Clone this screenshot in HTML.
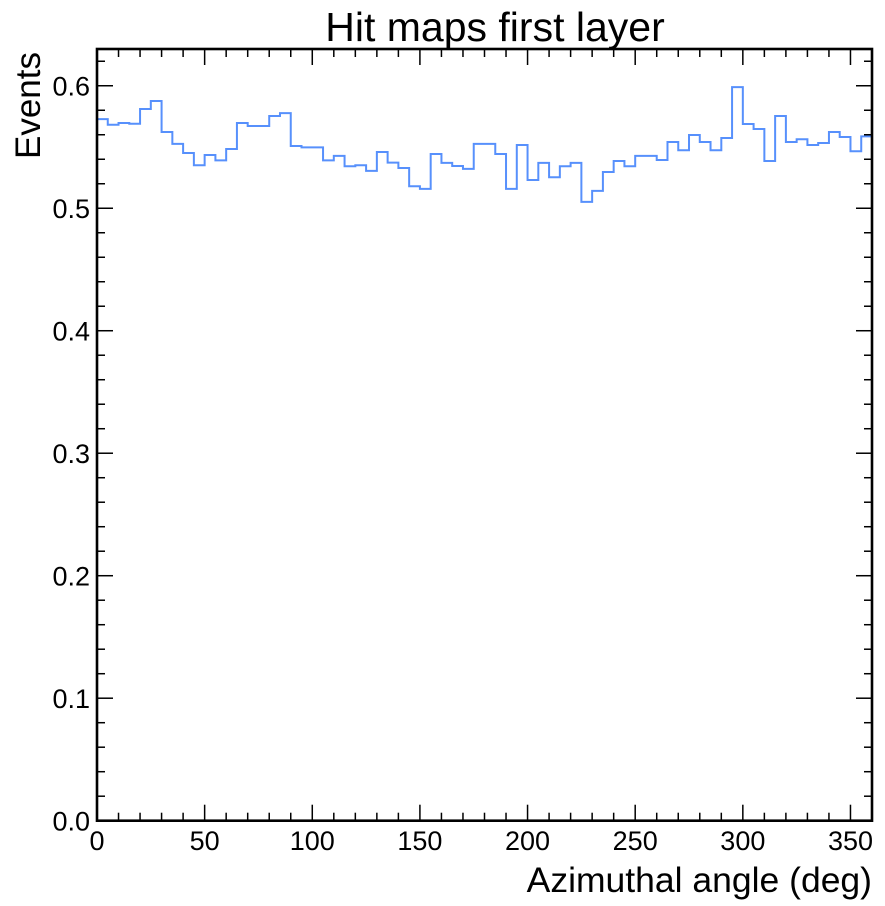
<!DOCTYPE html>
<html><head><meta charset="utf-8"><style>
html,body{margin:0;padding:0;background:#fff;width:885px;height:906px;overflow:hidden}
svg text{font-family:"Liberation Sans",Arial,sans-serif;fill:#000}
</style></head><body>
<svg id="chart" width="885" height="906" xmlns="http://www.w3.org/2000/svg"></svg>
<script>
const binEdgesCount = 72;
const xRange = [0, 360];
const yRange = [0, 0.63];
const values = [0.5728,0.5682,0.5696,0.569,0.581,0.5875,0.5622,0.5525,0.5451,0.5351,0.5435,0.5391,0.5484,0.5696,0.5671,0.5671,0.5753,0.5777,0.5508,0.5497,0.5497,0.5391,0.5427,0.5343,0.5351,0.5305,0.5459,0.5372,0.5329,0.518,0.5158,0.5443,0.537,0.5345,0.5321,0.5525,0.5525,0.5443,0.5158,0.5516,0.5231,0.537,0.5253,0.5343,0.537,0.5052,0.5142,0.5296,0.5386,0.5343,0.5427,0.5427,0.5394,0.5541,0.5473,0.5598,0.5541,0.5473,0.5573,0.5989,0.5688,0.5647,0.5386,0.5753,0.5541,0.5563,0.5516,0.5533,0.5622,0.5582,0.5465,0.5587];
const xTicks = [0,50,100,150,200,250,300,350];
const yTicks = [0.0,0.1,0.2,0.3,0.4,0.5,0.6];
const yTickLabels = ["0.0","0.1","0.2","0.3","0.4","0.5","0.6"];

const L=97,R=872,T=49,B=820.7;
const sx=v=>L+(v-xRange[0])/(xRange[1]-xRange[0])*(R-L);
const sy=v=>B-(v-yRange[0])/(yRange[1]-yRange[0])*(B-T);
const svg=document.getElementById('chart');
const NS='http://www.w3.org/2000/svg';
function mk(tag,attrs,parent){const e=document.createElementNS(NS,tag);for(const k in attrs)e.setAttribute(k,attrs[k]);(parent||svg).appendChild(e);return e;}

const bw=(xRange[1]-xRange[0])/binEdgesCount;
let d='M'+sx(0)+','+sy(0);
values.forEach((v,i)=>{d+=' L'+sx(i*bw)+','+sy(v)+' L'+sx((i+1)*bw)+','+sy(v);});
d+=' L'+sx(360)+','+sy(0);
const hist=mk('path',{d:d,fill:'none',stroke:'#5790fc','stroke-width':2});



const tg=mk('g',{stroke:'#000','stroke-width':1.5});


for(let v=0;v<=360;v+=10){const maj=v%50===0,len=maj?16:8,x=sx(v);
 mk('line',{x1:x,x2:x,y1:B,y2:B-len},tg);mk('line',{x1:x,x2:x,y1:T,y2:T+len},tg);}
for(let k=0;k<=31;k++){const v=k*0.02,maj=k%5===0,len=maj?16:8,y=sy(v);
 mk('line',{x1:L,x2:L+len,y1:y,y2:y},tg);mk('line',{x1:R,x2:R-len,y1:y,y2:y},tg);}

xTicks.forEach(v=>{const t=mk('text',{x:sx(v),y:850,'font-size':27,'text-anchor':'middle'});t.textContent=v;
 
 });
yTicks.forEach((v,i)=>{const t=mk('text',{x:L-7,y:sy(v)+10,'font-size':27,'text-anchor':'end'});t.textContent=yTickLabels[i];
 
 });

const frame=mk('rect',{x:L,y:T,width:R-L,height:B-T,fill:'none',stroke:'#000','stroke-width':2.6});



const title=mk('text',{x:495,y:41,'font-size':41,'text-anchor':'middle'});title.textContent='Hit maps first layer';


const xl=mk('text',{x:R,y:892,'font-size':35.5,'text-anchor':'end'});xl.textContent='Azimuthal angle (deg)';


const yl=mk('text',{x:0,y:0,'font-size':35,'text-anchor':'end',transform:'translate(40,'+(T+3)+') rotate(-90)'});yl.textContent='Events';


</script>
</body></html>
